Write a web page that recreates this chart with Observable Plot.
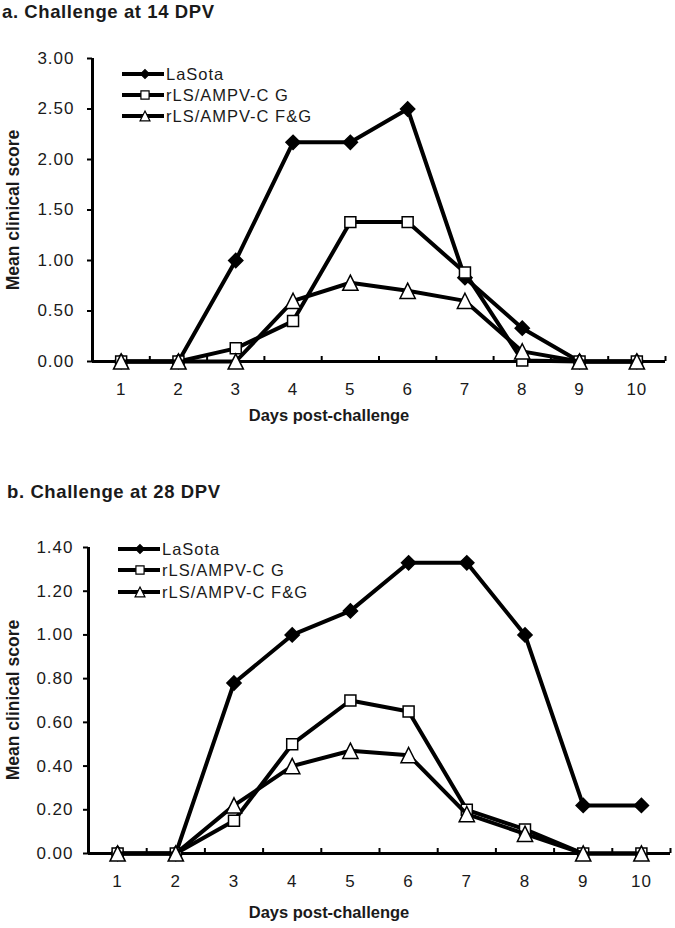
<!DOCTYPE html>
<html><head><meta charset="utf-8">
<script src="https://cdn.jsdelivr.net/npm/d3@7"></script>
<script src="https://cdn.jsdelivr.net/npm/@observablehq/plot@0.6"></script>
<style>
body{margin:0;background:#fff;font-family:"Liberation Sans",Arial,sans-serif;color:#1a1a1a;}
#root{position:relative;width:675px;height:928px;overflow:hidden;}
#root svg{position:absolute;left:0;}
.t{position:absolute;white-space:nowrap;font-weight:bold;}
.title{font-size:18.5px;letter-spacing:0.6px;}
.xl{font-size:16.5px;transform:translateX(-50%);}
.yl{font-size:17.5px;transform:translate(-50%,-50%) rotate(-90deg);}
</style></head><body><div id="root"></div>
<script>
// ---- data ----
const days = [1, 2, 3, 4, 5, 6, 7, 8, 9, 10];
const seriesNames = ["LaSota", "rLS/AMPV-C G", "rLS/AMPV-C F&G"];
const a_LaSota = [0, 0, 1.00, 2.17, 2.17, 2.50, 0.83, 0.33, 0, 0];
const a_G      = [0, 0, 0.13, 0.40, 1.38, 1.38, 0.88, 0.01, 0, 0];
const a_FG     = [0, 0, 0.00, 0.60, 0.78, 0.70, 0.60, 0.10, 0, 0];
const b_LaSota = [0, 0, 0.78, 1.00, 1.11, 1.33, 1.33, 1.00, 0.22, 0.22];
const b_G      = [0, 0, 0.15, 0.50, 0.70, 0.65, 0.20, 0.11, 0, 0];
const b_FG     = [0, 0, 0.22, 0.40, 0.47, 0.45, 0.18, 0.09, 0, 0];
const a_yTicks = [0, 0.5, 1.0, 1.5, 2.0, 2.5, 3.0];
const b_yTicks = [0, 0.2, 0.4, 0.6, 0.8, 1.0, 1.2, 1.4];
const titles = ["a. Challenge at 14 DPV", "b. Challenge at 28 DPV"];
const xLabel = "Days post-challenge";
const yLabel = "Mean clinical score";

// ---- styles per series ----
const triUp = {draw(context, size) {
  const h = Math.sqrt(size);
  context.moveTo(0, -h / 2);
  context.lineTo(h / 2, h / 2);
  context.lineTo(-h / 2, h / 2);
  context.closePath();
}};
const styles = [
  {symbol: "diamond2", d3s: d3.symbolDiamond2, fill: "black", r: 6.4, lr: 4.0},
  {symbol: "square", d3s: d3.symbolSquare, fill: "white", r: 6.2, lr: 4.6},
  {symbol: triUp, d3s: triUp, fill: "white", r: 8.6, lr: 5.6}
];

const root = document.getElementById("root");

function panel(seriesVals, yTicks, cfg) {
  const marks = [];
  marks.push(Plot.axisY({ticks: yTicks, tickFormat: d3.format(".2f"), tickSize: 5, tickPadding: cfg.tickPad,
    label: null, stroke: "black", strokeWidth: 2, fontSize: 17, fill: "#1a1a1a"}));
  marks.push(Plot.axisX({ticks: days, tickSize: 0, tickPadding: 21, tickFormat: d => String(d), label: null, fontSize: 17}));
  marks.push(Plot.axisX({ticks: days.map(d => d + 0.5), tickSize: 5, dy: -5, tickFormat: () => "", label: null, stroke: "black", strokeWidth: 2}));
  marks.push(Plot.ruleX([0.5], {stroke: "black", strokeWidth: 3}));
  marks.push(Plot.ruleY([0], {stroke: "black", strokeWidth: 3}));
  seriesVals.forEach((vals, i) => {
    const rows = vals.map((v, j) => ({day: days[j], value: v, series: seriesNames[i]}));
    const s = styles[i];
    marks.push(Plot.line(rows, {x: "day", y: "value", stroke: "black", strokeWidth: 4}));
    marks.push(Plot.dot(rows, {x: "day", y: "value", symbol: s.symbol, r: s.r, fill: s.fill, stroke: "black", strokeWidth: 1.5}));
  });
  const svg = Plot.plot({
    width: 675, height: cfg.height,
    marginLeft: cfg.ml, marginRight: cfg.mr, marginTop: cfg.mt, marginBottom: cfg.mb,
    style: {fontFamily: "'Liberation Sans', Arial, sans-serif", fontSize: "17px", background: "transparent", color: "#1a1a1a", letterSpacing: "1px", overflow: "visible"},
    x: {domain: [0.5, 10.5]},
    y: {domain: [0, yTicks[yTicks.length - 1]]},
    marks
  });
  svg.style.top = cfg.top + "px";
  root.appendChild(svg);
}

panel([a_LaSota, a_G, a_FG], a_yTicks, {top: 0, height: 440, ml: 92, mr: 10, mt: 58, mb: 79, tickPad: 13});
panel([b_LaSota, b_G, b_FG], b_yTicks, {top: 470, height: 458, ml: 88, mr: 5, mt: 77, mb: 75, tickPad: 10});

// titles and axis labels
function addText(cls, text, css) {
  const d = document.createElement("div");
  d.className = "t " + cls;
  d.textContent = text;
  Object.assign(d.style, css);
  root.appendChild(d);
}
addText("title", titles[0], {left: "2px", top: "1px"});
addText("title", titles[1], {left: "7px", top: "481px"});
addText("xl", xLabel, {left: "329px", top: "406px"});
addText("xl", xLabel, {left: "329px", top: "903px"});
addText("yl", yLabel, {left: "13px", top: "210px"});
addText("yl", yLabel, {left: "13px", top: "700px"});

// legends
const ov = d3.select(root).append("svg").attr("width", 675).attr("height", 928).style("top", "0px");
function legend(x0, x1, xs, xt, ys) {
  seriesNames.forEach((name, i) => {
    const y = ys[i];
    const s = styles[i];
    ov.append("line").attr("x1", x0).attr("x2", x1).attr("y1", y).attr("y2", y).attr("stroke", "black").attr("stroke-width", 3.8);
    ov.append("path").attr("d", d3.symbol(s.d3s, s.lr * s.lr * Math.PI)()).attr("transform", `translate(${xs},${y})`)
      .attr("fill", s.fill).attr("stroke", "black").attr("stroke-width", 1.2);
    ov.append("text").attr("x", xt).attr("y", y).attr("dy", "0.35em").text(name)
      .attr("font-family", "'Liberation Sans', Arial, sans-serif").attr("font-size", 16.5).attr("letter-spacing", "1px").attr("fill", "#1a1a1a");
  });
}
legend(122, 164, 145, 166, [74, 95, 116]);
legend(118, 160, 140, 162, [549, 570, 592]);
</script></body></html>
